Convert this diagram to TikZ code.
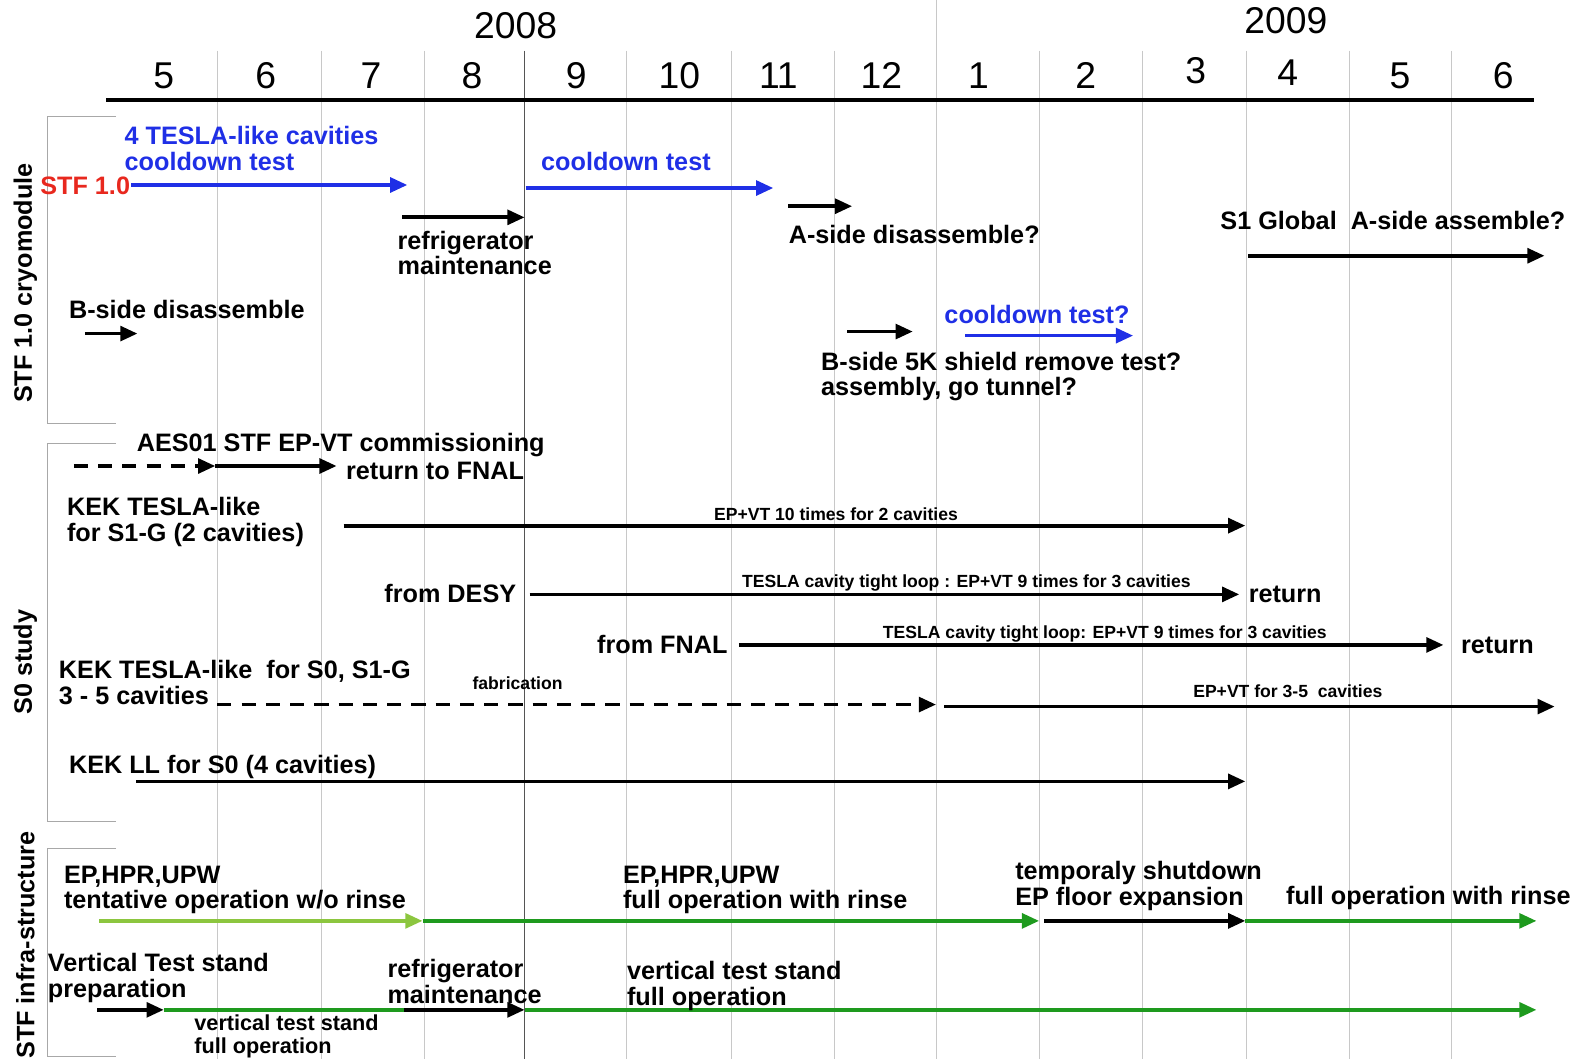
\documentclass[tikz,border=0pt]{standalone}
\usepackage{fontspec}
\setmainfont{Liberation Sans}
\usetikzlibrary{arrows.meta}
\definecolor{gridline}{HTML}{C8C8C8}
\definecolor{nowline}{HTML}{555555}
\definecolor{bracket}{HTML}{A8A8A8}
\definecolor{testblue}{HTML}{1F2FE6}
\definecolor{stfred}{HTML}{E8281E}
\definecolor{opgreen}{HTML}{1E9A1E}
\definecolor{tentgreen}{HTML}{8CC63F}
\begin{document}
\begin{tikzpicture}[x=0.02cm,y=-0.02cm,
      lbl/.style={inner sep=0pt,font=\bfseries\fontsize{14.2}{14.4}\selectfont,align=left},
      mid/.style={inner sep=0pt,font=\bfseries\fontsize{12.2}{12.6}\selectfont,align=left},
      tiny/.style={inner sep=0pt,font=\bfseries\fontsize{9.9}{10}\selectfont},
      month/.style={inner sep=0pt,font=\fontsize{21}{21}\selectfont},
      sect/.style={inner sep=0pt,font=\bfseries\fontsize{14.2}{14.4}\selectfont,rotate=90},
      bar/.style={line width=2.1pt,-{Triangle[length=3.4mm,width=2.9mm]}},
      dbar/.style={bar,dash pattern=on 2.8mm off 2mm},
      grid/.style={draw=gridline,line width=0.5pt},
      brk/.style={draw=bracket,line width=0.6pt}
    ]
      \useasboundingbox (0,0) rectangle (1568,1048);
      \foreach \gx in {215,318,420,620,724,825,1028,1130,1233,1335,1436}
        \draw[grid] (\gx,50) -- (\gx,1048);
      \draw[grid] (926,0) -- (926,1048);
      \draw[draw=nowline,line width=0.9pt] (519,50) -- (519,1048);
      \draw[line width=2.3pt] (105,99) -- (1518,99);
      \node[month] (y8) at (510,25) {2008};
      \node[month] (y9) at (1272,20) {2009};
      \foreach \mx/\my/\mt in {162/75/5,263/75/6,367/75/7,467/75/8,570/75/9,672/75/10,770/75/11,872/75/12,968/75/1,1074/75/2,1183/70/3,1274/72/4,1385/75/5,1487/75/6}
        \node[month] at (\mx,\my) {\mt};
      \draw[brk] (115,115) -- (47,115) -- (47,419) -- (115,419);
      \draw[brk] (115,439) -- (47,439) -- (47,813) -- (115,813);
      \draw[brk] (115,839) -- (47,839) -- (47,1045) -- (115,1045);
      \node[sect] (s1) at (25,280) {STF 1.0 cryomodule};
      \node[sect] (s2) at (25,655) {S0 study};
      \node[sect] (s3) at (25,935) {STF infra-structure};
      \node[lbl,text=testblue,anchor=north west] (cav) at (123,125) {4 TESLA-like cavities\\cooldown test};
      \node[lbl,text=stfred,anchor=base east] (stf) at (129,192) {STF 1.0};
      \draw[bar,testblue] (130,183) -- (403,183);
      \draw[bar] (398,215) -- (519,215);
      \node[lbl,anchor=north west] (ref1) at (393,228) {refrigerator\\maintenance};
      \node[lbl,text=testblue,anchor=base west] (cool2) at (535,169) {cooldown test};
      \draw[bar,testblue] (520,186) -- (765,186);
      \draw[bar] (780,204) -- (843,204);
      \node[lbl,anchor=base west] (adis) at (780,241) {A-side disassemble?};
      \node[lbl,anchor=base west] (s1g) at (1207,227) {S1 Global\ \ A-side assemble?};
      \draw[bar] (1235,253) -- (1528,253);
      \node[lbl,anchor=base west] (bdis) at (68,315) {B-side disassemble};
      \draw[bar] (84,330) -- (136,330);
      \draw[bar] (838,328) -- (903,328);
      \node[lbl,text=testblue,anchor=base west] (cool3) at (934,320) {cooldown test?};
      \draw[bar,testblue] (955,332) -- (1121,332);
      \node[lbl,anchor=north west] (bshd) at (812,348) {B-side 5K shield remove test?\\assembly, go tunnel?};
      \node[lbl,anchor=base west] (aes) at (135,447) {AES01 STF EP-VT commissioning};
      \draw[dbar] (73,461) -- (213,461);
      \draw[bar] (213,461) -- (333,461);
      \node[lbl,anchor=base west] (ret0) at (342,474) {return to FNAL};
      \node[lbl,anchor=north west] (kek1) at (66,492) {KEK TESLA-like\\for S1-G (2 cavities)};
      \draw[bar] (340,520) -- (1232,520);
      \node[tiny,anchor=base] (ep10) at (827,515) {EP+VT 10 times for 2 cavities};
      \node[lbl,anchor=base east] (desy) at (511,596) {from DESY};
      \draw[bar] (524,588) -- (1226,588);
      \node[tiny,anchor=base] (loop1) at (956,581) {TESLA cavity tight loop : EP+VT 9 times for 3 cavities};
      \node[lbl,anchor=base west] (ret1) at (1235,596) {return};
      \node[lbl,anchor=base east] (fnal) at (720,646) {from FNAL};
      \draw[bar] (731,638) -- (1428,638);
      \node[tiny,anchor=base] (loop2) at (1093,632) {TESLA cavity tight loop: EP+VT 9 times for 3 cavities};
      \node[lbl,anchor=base west] (ret2) at (1445,646) {return};
      \node[lbl,anchor=north west] (kek2) at (58,653) {KEK TESLA-like\ \ for S0, S1-G\\3 - 5 cavities};
      \draw[dbar] (215,697) -- (926,697);
      \node[tiny,anchor=base] (fab) at (512,682) {fabrication};
      \draw[bar] (934,699) -- (1538,699);
      \node[tiny,anchor=base] (ep35) at (1274,690) {EP+VT for 3-5\ \ cavities};
      \node[lbl,anchor=base west] (kekll) at (68,765) {KEK LL for S0 (4 cavities)};
      \draw[bar] (135,773) -- (1232,773);
      \node[lbl,anchor=north west] (ep1) at (63,856) {EP,HPR,UPW\\tentative operation w/o rinse};
      \draw[bar,tentgreen] (98,911) -- (418,911);
      \draw[bar,opgreen] (418,911) -- (1028,911);
      \node[lbl,anchor=north west] (ep2) at (616,856) {EP,HPR,UPW\\full operation with rinse};
      \draw[bar] (1033,911) -- (1232,911);
      \node[lbl,anchor=north west] (shut) at (1004,852) {temporaly shutdown\\EP floor expansion};
      \draw[bar,opgreen] (1232,911) -- (1520,911);
      \node[lbl,anchor=base west] (full) at (1272,895) {full operation with rinse};
      \node[lbl,anchor=north west] (vts) at (47,943) {Vertical Test stand\\preparation};
      \draw[bar] (96,999) -- (162,999);
      \draw[line width=2.1pt,opgreen] (162,999) -- (400,999);
      \draw[bar] (400,999) -- (519,999);
      \draw[bar,opgreen] (519,999) -- (1520,999);
      \node[mid,anchor=north west] (vts1) at (192,1004) {vertical test stand\\full operation};
      \node[lbl,anchor=north west] (ref2) at (383,949) {refrigerator\\maintenance};
      \node[lbl,anchor=north west] (vts2) at (620,951) {vertical test stand\\full operation};
    \end{tikzpicture}
\end{document}
